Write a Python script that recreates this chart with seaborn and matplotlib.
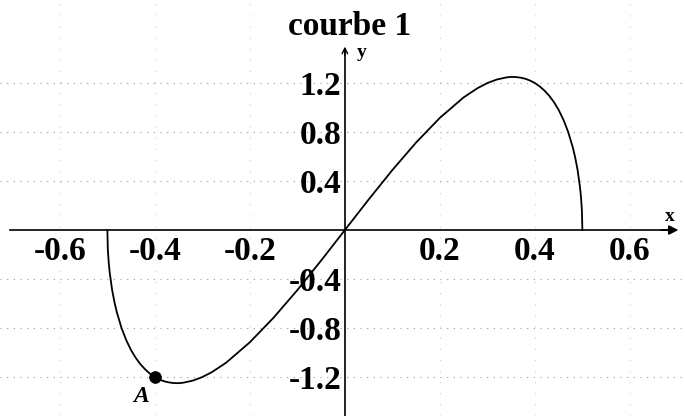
import matplotlib

matplotlib.use("Agg")

import matplotlib.pyplot as plt
import seaborn as sns

# values
curve_x = [-0.5, -0.499, -0.497, -0.495, -0.49, -0.485, -0.48, -0.47, -0.46, -0.45,
           -0.44, -0.43, -0.42, -0.41, -0.4, -0.39, -0.38, -0.37, -0.36, -0.35,
           -0.34, -0.32, -0.3, -0.28, -0.25, -0.2, -0.15, -0.1, -0.05, 0.0,
           0.05, 0.1, 0.15, 0.2, 0.25, 0.28, 0.3, 0.32, 0.34, 0.35,
           0.36, 0.37, 0.38, 0.39, 0.4, 0.41, 0.42, 0.43, 0.44, 0.45,
           0.46, 0.47, 0.48, 0.485, 0.49, 0.495, 0.497, 0.499, 0.5]
curve_y = [0.0, -0.158, -0.272, -0.349, -0.488, -0.59, -0.672, -0.802, -0.901, -0.981,
           -1.045, -1.097, -1.139, -1.173, -1.2, -1.22, -1.235, -1.244, -1.249, -1.25,
           -1.246, -1.229, -1.2, -1.16, -1.083, -0.916, -0.715, -0.49, -0.249, 0.0,
           0.249, 0.49, 0.715, 0.916, 1.083, 1.16, 1.2, 1.229, 1.246, 1.25,
           1.249, 1.244, 1.235, 1.22, 1.2, 1.173, 1.139, 1.097, 1.045, 0.981,
           0.901, 0.802, 0.672, 0.59, 0.488, 0.349, 0.272, 0.158, 0.0]

point_a = (-0.4, -1.2)

x_ticks = [-0.6, -0.4, -0.2, 0.2, 0.4, 0.6]
y_ticks = [-1.2, -0.8, -0.4, 0.4, 0.8, 1.2]

sns.set_theme(style="white")
plt.rcParams["font.family"] = ["Liberation Serif", "DejaVu Serif"]
plt.rcParams["text.color"] = "black"

fig = plt.figure(figsize=(6.85, 4.16), dpi=100)
ax = fig.add_axes([0, 0, 1, 1])
ax.set_xlim(-0.726, 0.716)
ax.set_ylim(-1.518, 1.878)

sns.lineplot(x=curve_x, y=curve_y, sort=False, estimator=None, color="black", linewidth=1.3, ax=ax)
sns.scatterplot(x=[point_a[0]], y=[point_a[1]], color="black", s=70, edgecolor="black", zorder=5, ax=ax)

for side in ["top", "right"]:
    ax.spines[side].set_visible(False)
ax.spines["left"].set_position(("data", 0))
ax.spines["bottom"].set_position(("data", 0))
ax.spines["left"].set_bounds(-1.52, 1.46)
ax.spines["bottom"].set_bounds(-0.705, 0.69)
for side in ["left", "bottom"]:
    ax.spines[side].set_color("black")
    ax.spines[side].set_linewidth(1.2)

ax.annotate("", xy=(0.708, 0), xytext=(0.66, 0),
            arrowprops=dict(arrowstyle="-|>", color="black", lw=1.2, mutation_scale=14))
ax.annotate("", xy=(0, 1.52), xytext=(0, 1.4),
            arrowprops=dict(arrowstyle="->", color="black", lw=1.0, mutation_scale=10))

ax.set_xticks(x_ticks)
ax.set_yticks(y_ticks)
ax.set_xticklabels([f"{v:.1f}" for v in x_ticks])
ax.set_yticklabels([f"{v:.1f}" for v in y_ticks])
ax.tick_params(axis="both", direction="inout", length=7, width=1, color="black",
               labelsize=24, labelcolor="black")
ax.tick_params(axis="x", pad=1)
ax.tick_params(axis="y", pad=-1)
for lab in ax.get_xticklabels() + ax.get_yticklabels():
    lab.set_fontweight("bold")

ax.grid(True, axis="y", linestyle=(0, (1, 5)), color="#555555", linewidth=0.8, alpha=0.6)
ax.grid(True, axis="x", linestyle=(0, (1, 9)), color="#777777", linewidth=0.8, alpha=0.35)

ax.text(0.01, 1.66, "courbe 1", ha="center", va="center", fontsize=24, fontweight="bold")
ax.text(0.684, 0.11, "x", ha="center", va="center", fontsize=14, fontweight="bold")
ax.text(0.036, 1.45, "y", ha="center", va="center", fontsize=14, fontweight="bold")
ax.text(-0.43, -1.36, "A", ha="center", va="center", fontsize=17, fontweight="bold", style="italic")

fig.savefig("out.png", dpi=100)
